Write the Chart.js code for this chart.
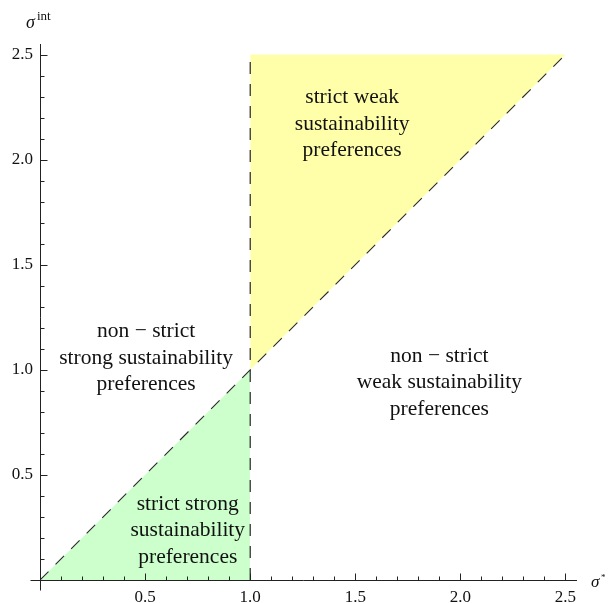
<!DOCTYPE html>
<html>
<head>
<meta charset="utf-8">
<title>Sustainability preferences</title>
<script src="https://cdn.jsdelivr.net/npm/chart.js@4.4.1/dist/chart.umd.min.js"></script>
<style>
  html, body { margin: 0; padding: 0; background: #ffffff; }
  canvas { display: block; }
</style>
</head>
<body>
<canvas id="chart" width="610" height="603"></canvas>
<script>
// Boundary σ^int = σ* between strong and weak preferences
const boundaryX = [0, 2.5];
const boundaryY = [0, 2.5];
// Threshold σ* = 1
const thresholdX = [1, 1];
const thresholdY = [0, 2.5];
// Strict strong region: below the boundary for σ* ≤ 1
const strongX = [0, 1];
const strongY = [0, 1];
// Strict weak region: above the boundary for σ* ≥ 1, up to the ceiling
const weakX = [1, 2.5];
const weakY = [1, 2.5];
const ceiling = 2.5;
// Axis ticks
const xTicks = [0.5, 1.0, 1.5, 2.0, 2.5];
const yTicks = [0.5, 1.0, 1.5, 2.0, 2.5];
// Region captions
const regionText = [
  ["strict weak", "sustainability", "preferences"],
  ["non \u2212 strict", "strong sustainability", "preferences"],
  ["non \u2212 strict", "weak sustainability", "preferences"],
  ["strict strong", "sustainability", "preferences"]
];
const regionAt = [
  [1.485, 2.17],
  [0.505, 1.055],
  [1.9, 0.94],
  [0.703, 0.235]
];

const pts = (xs, ys) => xs.map((x, i) => ({ x: x, y: ys[i] }));
const SERIF = '"Liberation Serif", "Times New Roman", serif';

const axesPlugin = {
  id: 'crossAxes',
  afterDatasetsDraw(chart) {
    const ctx = chart.ctx;
    const xs = chart.scales.x, ys = chart.scales.y;
    const x0 = Math.round(xs.getPixelForValue(0)) + 0.5;
    const y0 = Math.round(ys.getPixelForValue(0)) + 0.5;
    ctx.save();
    ctx.strokeStyle = '#222';
    ctx.lineWidth = 1;
    ctx.beginPath();
    ctx.moveTo(x0 - 10, y0);
    ctx.lineTo(xs.right + 1, y0);
    ctx.moveTo(x0, y0 + 10);
    ctx.lineTo(x0, ys.top);
    // tick marks pointing into the plot
    for (let k = 1; k <= 25; k++) {
      const v = k / 10;
      const len = (k % 5 === 0) ? 7 : 4;
      const px = Math.round(xs.getPixelForValue(v)) + 0.5;
      ctx.moveTo(px, y0);
      ctx.lineTo(px, y0 - len);
      const py = Math.round(ys.getPixelForValue(v)) + 0.5;
      ctx.moveTo(x0, py);
      ctx.lineTo(x0 + len, py);
    }
    ctx.stroke();

    // region captions
    ctx.fillStyle = '#111';
    ctx.textAlign = 'center';
    ctx.textBaseline = 'middle';
    ctx.font = '21.5px ' + SERIF;
    regionText.forEach((lines, i) => {
      const cx = xs.getPixelForValue(regionAt[i][0]);
      const cy = ys.getPixelForValue(regionAt[i][1]);
      lines.forEach((t, j) => {
        ctx.fillText(t, cx, cy + (j - 1) * 26.5);
      });
    });

    // axis titles
    ctx.textAlign = 'left';
    ctx.textBaseline = 'alphabetic';
    ctx.font = 'italic 18px ' + SERIF;
    ctx.fillText('\u03C3', 26, 28);
    ctx.font = '13px ' + SERIF;
    ctx.fillText('int', 37, 20);
    ctx.font = 'italic 17px ' + SERIF;
    ctx.fillText('\u03C3', 591, 587);
    ctx.font = '9px ' + SERIF;
    ctx.fillText('*', 601, 580);
    ctx.restore();
  }
};

const tickFont = { family: SERIF, size: 17 };

new Chart(document.getElementById('chart'), {
  type: 'scatter',
  data: {
    datasets: [
      {
        data: pts(boundaryX, boundaryY),
        showLine: true, fill: false,
        borderColor: '#2a2a2a', borderWidth: 1.1, borderDash: [12, 10],
        pointRadius: 0, order: 0
      },
      {
        data: pts(thresholdX, thresholdY),
        showLine: true, fill: false,
        borderColor: '#111', borderWidth: 1.1, borderDash: [12, 10],
        pointRadius: 0, order: 1
      },
      {
        data: pts(strongX, strongY),
        showLine: true, fill: 'origin',
        backgroundColor: 'rgb(204,255,204)', borderWidth: 0,
        pointRadius: 0, order: 2
      },
      {
        data: pts(weakX, weakY),
        showLine: true, fill: { value: ceiling },
        backgroundColor: 'rgb(255,255,170)', borderWidth: 0,
        pointRadius: 0, order: 3
      }
    ]
  },
  options: {
    responsive: false,
    animation: false,
    devicePixelRatio: 1,
    layout: { padding: { left: 0, right: 34, top: 44, bottom: 0 } },
    plugins: { legend: { display: false }, tooltip: { enabled: false } },
    scales: {
      x: {
        type: 'linear', position: 'bottom', min: 0, max: 2.55,
        grid: { display: false, drawTicks: false },
        border: { display: false },
        afterFit: s => { s.height = 23; },
        afterBuildTicks: s => { s.ticks = xTicks.map(v => ({ value: v })); },
        ticks: {
          color: '#111', font: tickFont, padding: 7, maxRotation: 0,
          callback: v => Number(v).toFixed(1)
        }
      },
      y: {
        type: 'linear', position: 'left', min: 0, max: 2.55,
        grid: { display: false, drawTicks: false },
        border: { display: false },
        afterFit: s => { s.width = 40; },
        afterBuildTicks: s => { s.ticks = yTicks.map(v => ({ value: v })); },
        ticks: {
          color: '#111', font: tickFont, padding: 7,
          callback: v => Number(v).toFixed(1)
        }
      }
    }
  },
  plugins: [axesPlugin]
});
</script>
</body>
</html>
